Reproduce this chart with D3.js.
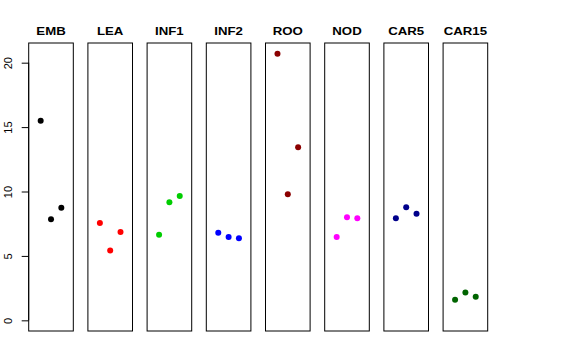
<!DOCTYPE html>
<html><head><meta charset="utf-8">
<script src="https://cdn.jsdelivr.net/npm/d3@7"></script>
<style>body{margin:0;background:#fff}svg{display:block}</style>
</head><body>
<svg id="c" width="576" height="360"></svg>
<script>
const categories = ["EMB","LEA","INF1","INF2","ROO","NOD","CAR5","CAR15"];
const colors = ["#000000","#FF0000","#00CD00","#0000FF","#8B0000","#FF00FF","#00008B","#006400"];
const values = [
  [15.5, 7.84, 8.74],
  [7.55, 5.43, 6.86],
  [6.65, 9.16, 9.65],
  [6.80, 6.47, 6.37],
  [20.7, 9.78, 13.43],
  [6.47, 8.00, 7.92],
  [7.92, 8.77, 8.28],
  [1.60, 2.17, 1.83]
];
const yTicks = [0,5,10,15,20];
const yMax = 20.7;

(function(){
const svg = d3.select("#c");
const font = "Liberation Sans, Arial, Helvetica, sans-serif";
const pTop = 43, pBottom = 331;

const band = d3.scaleBand().domain(categories).range([28.7, 487.7]).paddingInner(0.2465).paddingOuter(0);
const pad = yMax*0.04;
const y = d3.scaleLinear().domain([-pad, yMax+pad]).range([pBottom, pTop]);
const xi = d3.scaleLinear().domain([-0.16, 4.16]).range([0, band.bandwidth()]);

categories.forEach((c, i) => {
  const g = svg.append("g").attr("transform", `translate(${band(c)},0)`);
  g.append("rect").attr("x",0).attr("y",pTop).attr("width",band.bandwidth()).attr("height",pBottom-pTop)
    .attr("fill","none").attr("stroke","#000").attr("stroke-width",1);
  g.append("text").attr("transform",`translate(${band.bandwidth()/2},34.5) scale(1.15,1)`).attr("text-anchor","middle")
    .attr("font-family",font).attr("font-weight","bold").attr("font-size",11.5).text(c);
  g.selectAll("circle").data(values[i]).join("circle")
    .attr("cx",(d,j)=>xi(j+1)).attr("cy",d=>y(d)).attr("r",3).attr("fill",colors[i]);
});

const ax = svg.append("g").attr("transform",`translate(${band(categories[0])},0)`)
  .call(d3.axisLeft(y).tickValues(yTicks).tickSize(7).tickPadding(4).tickFormat(d3.format("d")));
ax.select(".domain").attr("d", `M0,${y(0)}V${y(20)}`).attr("stroke","#000");
ax.selectAll(".tick line").attr("stroke","#000");
ax.selectAll(".tick text").attr("font-family",font).attr("font-size",11).attr("fill","#000")
  .attr("transform","rotate(-90)").attr("x",0).attr("y",-17).attr("dy","0").attr("text-anchor","middle");
})();
</script>
</body></html>
